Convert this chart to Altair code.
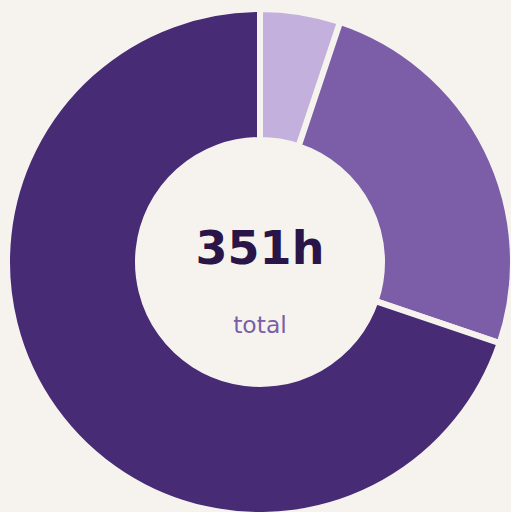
import altair as alt
import pandas as pd

categories = ["A", "B", "C"]
hours = [18, 88, 245]
colors = ["#c3b0dc", "#7b5ea7", "#472b74"]
total_label = ["351h"]
sub_label = ["total"]

df = pd.DataFrame({"cat": categories, "hours": hours, "ord": [0, 1, 2]})
bg = "#f6f3ef"

arc = alt.Chart(df).mark_arc(innerRadius=122, outerRadius=253, stroke=bg, strokeWidth=6).encode(
    theta=alt.Theta("hours:Q", stack=True),
    order=alt.Order("ord:Q"),
    color=alt.Color("cat:N", scale=alt.Scale(domain=categories, range=colors), legend=None),
    x=alt.value(260),
    y=alt.value(262),
)

t1 = alt.Chart(pd.DataFrame({"t": total_label})).mark_text(
    font="DejaVu Sans", fontWeight="bold", fontSize=46, color="#2a1548", baseline="middle"
).encode(text="t:N", x=alt.value(260), y=alt.value(250))

t2 = alt.Chart(pd.DataFrame({"t": sub_label})).mark_text(
    font="DejaVu Sans", fontSize=23.5, color="#7b5ea7", baseline="middle"
).encode(text="t:N", x=alt.value(260), y=alt.value(326))

chart = (arc + t1 + t2).properties(
    width=511, height=512, background=bg, padding=0,
    autosize=alt.AutoSizeParams(type="none")
).configure_view(stroke=None)

chart.save("out.html", embed_options={"renderer": "svg", "actions": False})
